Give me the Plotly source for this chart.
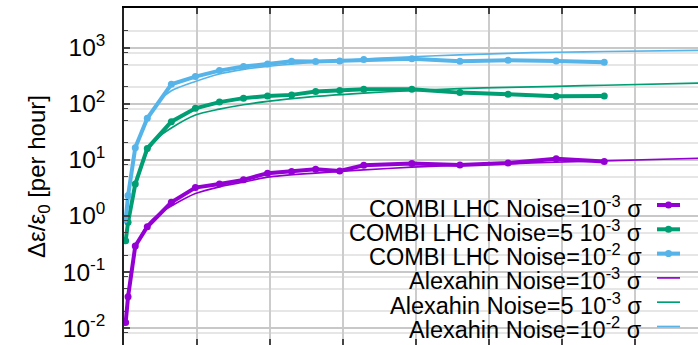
import plotly.graph_objects as go

# ---- data ----
combi_x = [0.1, 0.2, 0.5, 1, 2, 3, 4, 5, 6, 7, 8, 9, 10, 12, 14, 16, 18, 20]
combi_1e3 = [0.0125, 0.036, 0.29, 0.64, 1.75, 3.2, 3.72, 4.39, 5.78, 6.2, 6.8, 6.35, 8.0, 8.57, 8.12, 8.81, 10.4, 9.3]
combi_5e3 = [0.36, 0.77, 3.7, 16, 48, 83, 107, 126, 138, 144, 165, 172, 182, 182, 158, 148, 136, 138]
combi_1e2 = [0.85, 2.3, 16.5, 55, 223, 305, 390, 460, 514, 575, 565, 581, 618, 636, 574, 598, 581, 551]

alex_x = [0.1, 0.2, 0.5, 1, 1.5, 2, 3, 4, 5, 6, 8, 10, 12, 14, 16, 18, 20, 24]
alex_1e3 = [0.013, 0.037, 0.25, 0.68, 1.1, 1.5, 2.5, 3.3, 4.0, 4.9, 5.8, 6.6, 7.4, 8.0, 8.5, 9.1, 9.6, 10.7]
alex_5e3 = [0.35, 0.75, 3.5, 14, 26, 37, 63, 80, 96, 110, 135, 155, 172, 186, 196, 205, 214, 233]
alex_1e2 = [0.8, 2.2, 15, 50, 112, 170, 250, 340, 410, 465, 550, 625, 690, 745, 795, 830, 855, 900]

ytick_vals = [0.01, 0.1, 1, 10, 100, 1000]
ytick_text = ["10<sup>-2</sup>", "10<sup>-1</sup>", "10<sup>0</sup>", "10<sup>1</sup>", "10<sup>2</sup>", "10<sup>3</sup>"]

legend_labels = [
    "COMBI LHC Noise=10<sup>-3</sup> σ",
    "COMBI LHC Noise=5 10<sup>-3</sup> σ",
    "COMBI LHC Noise=10<sup>-2</sup> σ",
    "Alexahin Noise=10<sup>-3</sup> σ",
    "Alexahin Noise=5 10<sup>-3</sup> σ",
    "Alexahin Noise=10<sup>-2</sup> σ",
]
colors = ["#9400d3", "#009e73", "#56b4e9"]

W, H = 698, 345
ML, MR, MT, MB = 124, 0, 8, 0
PW, PH = W - ML - MR, H - MT - MB

def px(xp):
    return (xp - ML) / PW

def py(yp):
    return (H - MB - yp) / PH

fig = go.Figure()
for ys, c in zip([combi_1e3, combi_5e3, combi_1e2], colors):
    fig.add_trace(go.Scatter(x=combi_x, y=ys, mode="lines+markers",
                             line=dict(color=c, width=4),
                             marker=dict(color=c, size=7), showlegend=False))
for ys, c in zip([alex_1e3, alex_5e3, alex_1e2], colors):
    fig.add_trace(go.Scatter(x=alex_x, y=ys, mode="lines",
                             line=dict(color=c, width=1.7, shape="spline", smoothing=0.8),
                             showlegend=False))

minor_vals = []
for k in range(-3, 4):
    for m in (2, 5, 0.815):
        minor_vals.append(m * 10 ** k)

font = "Liberation Sans, Arial, sans-serif"
shapes = [dict(type="rect", xref="paper", yref="paper", x0=px(306), x1=1.0, y0=0, y1=py(193),
               fillcolor="white", line=dict(width=0), layer="between")]
annotations = []
for i, lab in enumerate(legend_labels):
    yc_line = 205 + 24.3 * i
    yc_text = 206.5 + 24.3 * i
    c = colors[i % 3]
    thick = i < 3
    shapes.append(dict(type="line", xref="paper", yref="paper", x0=px(657), x1=px(680),
                       y0=py(yc_line), y1=py(yc_line),
                       line=dict(color=c, width=4 if thick else 1.7), layer="above"))
    if thick:
        shapes.append(dict(type="circle", xref="paper", yref="paper",
                           x0=px(665), x1=px(672), y0=py(yc_line + 3.5), y1=py(yc_line - 3.5),
                           fillcolor=c, line=dict(width=0), layer="above"))
    annotations.append(dict(text=lab, xref="paper", yref="paper", x=px(644), y=py(yc_text),
                            xanchor="right", yanchor="middle", showarrow=False,
                            font=dict(family=font, size=23.5, color="black")))

fig.update_layout(
    width=W, height=H, margin=dict(l=ML, r=MR, t=MT, b=MB, autoexpand=False),
    plot_bgcolor="white", paper_bgcolor="white",
    font=dict(family=font, size=24, color="black"),
    shapes=shapes, annotations=annotations,
    xaxis=dict(range=[0.031, 23.898], tick0=0.031, dtick=3.035, showticklabels=False,
               showgrid=True, gridcolor="#cccccc", gridwidth=1.5, zeroline=False,
               showline=True, linecolor="black", linewidth=1.5, mirror="allticks",
               ticks="inside", ticklen=6, tickwidth=1.5, tickcolor="#444"),
    yaxis=dict(type="log", range=[-2.303, 3.708], tickvals=ytick_vals, ticktext=ytick_text,
               showgrid=True, gridcolor="#c8c8c8", gridwidth=1.5, zeroline=False,
               showline=True, linecolor="#222", linewidth=1.5, mirror=False,
               ticks="inside", ticklen=6, tickwidth=1.5, tickcolor="#444",
               ticklabelstandoff=12,
               tickfont=dict(family=font, size=24.5),
               minor=dict(tickvals=minor_vals, ticks="inside", ticklen=4, tickwidth=1.2,
                          tickcolor="#444", showgrid=True, gridcolor="#e6e6e6", gridwidth=1.5),
               title=dict(text="Δε/ε<sub>0</sub> [per hour]", standoff=10,
                          font=dict(family=font, size=24))),
)

fig.write_html("out.html")
